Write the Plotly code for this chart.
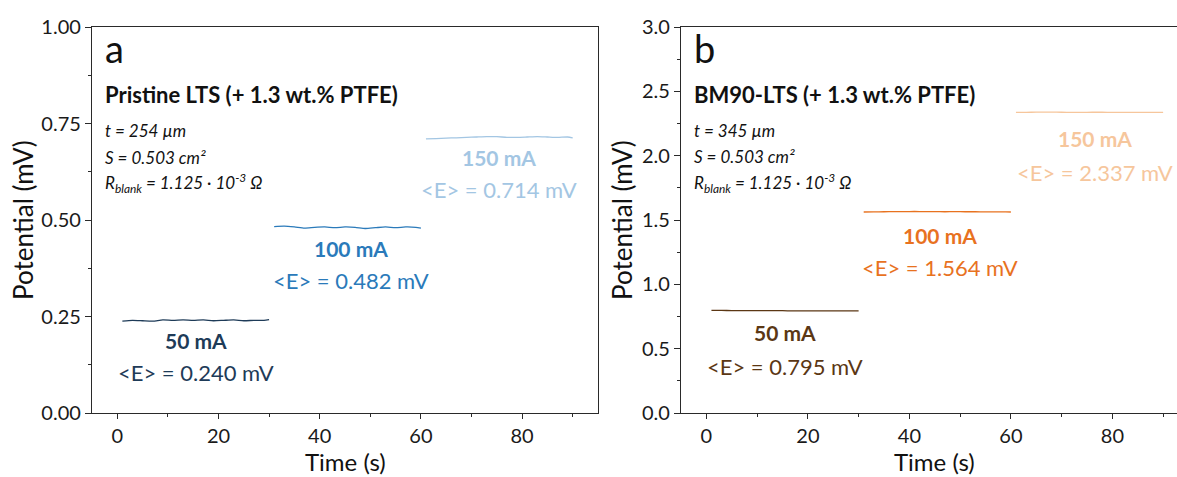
import plotly.graph_objects as go

# ---------------- data ----------------
t50 = [1, 3, 5, 7, 9, 11, 13, 15, 17, 19, 21, 23, 25, 27, 29, 30]
t100 = [31, 33, 35, 37, 39, 41, 43, 45, 47, 49, 51, 53, 55, 57, 59, 60]
t150 = [61, 63, 65, 67, 69, 71, 73, 75, 77, 79, 81, 83, 85, 87, 89, 90]

a50 = [0.238, 0.240, 0.239, 0.238, 0.241, 0.240, 0.241, 0.240, 0.241, 0.239, 0.240, 0.241, 0.239, 0.240, 0.240, 0.242]
a100 = [0.483, 0.484, 0.482, 0.479, 0.481, 0.482, 0.480, 0.482, 0.481, 0.478, 0.480, 0.482, 0.480, 0.482, 0.481, 0.479]
a150 = [0.710, 0.711, 0.712, 0.713, 0.714, 0.715, 0.716, 0.716, 0.714, 0.714, 0.715, 0.716, 0.715, 0.714, 0.715, 0.713]

b50 = [0.797, 0.797, 0.796, 0.796, 0.796, 0.795, 0.795, 0.795, 0.794, 0.794, 0.793, 0.794, 0.793, 0.793, 0.793, 0.793]
b100 = [1.562, 1.563, 1.564, 1.565, 1.565, 1.566, 1.565, 1.565, 1.564, 1.565, 1.564, 1.564, 1.563, 1.563, 1.563, 1.562]
b150 = [2.336, 2.337, 2.338, 2.338, 2.338, 2.337, 2.337, 2.337, 2.338, 2.337, 2.337, 2.336, 2.336, 2.336, 2.337, 2.337]

currents = ["50 mA", "100 mA", "150 mA"]
mean_a = ["<E> = 0.240 mV", "<E> = 0.482 mV", "<E> = 0.714 mV"]
mean_b = ["<E> = 0.795 mV", "<E> = 1.564 mV", "<E> = 2.337 mV"]

title_a = "Pristine LTS (+ 1.3 wt.% PTFE)"
title_b = "BM90-LTS (+ 1.3 wt.% PTFE)"
info_a = ["t = 254 µm", "S = 0.503 cm²", "R<sub>blank</sub> = 1.125 · 10<sup>-3</sup> Ω"]
info_b = ["t = 345 µm", "S = 0.503 cm²", "R<sub>blank</sub> = 1.125 · 10<sup>-3</sup> Ω"]

x_ticks = [0, 20, 40, 60, 80]
ya_ticks = [0.0, 0.25, 0.5, 0.75, 1.0]
yb_ticks = [0.0, 0.5, 1.0, 1.5, 2.0, 2.5, 3.0]

cols_a = ["#1e3b58", "#2a7aba", "#a3c6e3"]
cols_b = ["#5b3714", "#e8721f", "#f6c69c"]

FONT = "Lato"
W, H = 1177, 477

fig = go.Figure()
for t, y, c in zip([t50, t100, t150], [a50, a100, a150], cols_a):
    fig.add_trace(go.Scatter(x=t, y=y, mode="lines", line=dict(color=c, width=1.3, shape="spline", smoothing=0.6),
                             xaxis="x", yaxis="y", showlegend=False))
for t, y, c in zip([t50, t100, t150], [b50, b100, b150], cols_b):
    fig.add_trace(go.Scatter(x=t, y=y, mode="lines", line=dict(color=c, width=1.3, shape="spline", smoothing=0.6),
                             xaxis="x2", yaxis="y2", showlegend=False))

axcommon = dict(showline=True, linecolor="#2a2a2a", linewidth=1.3, ticks="outside",
                tickwidth=1.2, tickcolor="#2a2a2a", showgrid=False, zeroline=False, automargin=False,
                tickfont=dict(family=FONT, size=20, color="#1a1a1a"))

ydom = [64 / H, 450 / H]
fig.update_layout(
    template="none",
    width=W, height=H,
    margin=dict(l=0, r=0, t=0, b=0, pad=0),
    paper_bgcolor="white", plot_bgcolor="white",
    xaxis=dict(domain=[92 / W, 598 / W], range=[-5, 95], tickvals=x_ticks, mirror=True, ticklen=5,
               minor=dict(ticks="outside", ticklen=3, dtick=10, tick0=0, tickcolor="#2a2a2a"),
               anchor="y", **axcommon),
    yaxis=dict(domain=ydom, range=[0, 1], tickvals=ya_ticks, tickformat=".2f", mirror=True, ticklen=6,
               minor=dict(ticks="outside", ticklen=3, dtick=0.125, tick0=0, tickcolor="#2a2a2a"),
               anchor="x", **axcommon),
    xaxis2=dict(domain=[681 / W, 1.0], range=[-5, -5 + (W - 681) / 5.075], tickvals=x_ticks, mirror=True,
                ticklen=5,
                minor=dict(ticks="outside", ticklen=3, dtick=10, tick0=0, tickcolor="#2a2a2a"),
                anchor="y2", **axcommon),
    yaxis2=dict(domain=ydom, range=[0, 3], tickvals=yb_ticks, tickformat=".1f", mirror=False, ticklen=6,
                minor=dict(ticks="outside", ticklen=3, dtick=0.25, tick0=0, tickcolor="#2a2a2a"),
                anchor="x2", **axcommon),
)

ann = []


def add(text, x, y, xref, yref, size, color="#111111", xanchor="center", yanchor="middle", textangle=0,
        yshift=0):
    ann.append(dict(text=text, x=x, y=y, xref=xref, yref=yref, showarrow=False, xanchor=xanchor,
                    yanchor=yanchor, textangle=textangle, yshift=yshift, borderpad=0,
                    font=dict(family=FONT, size=size, color=color)))


# panel a
add("a", -2.6, 0.945, "x", "y", 38, xanchor="left")
add("<b>" + title_a + "</b>", -2.6, 0.826, "x", "y", 22, xanchor="left")
for txt, yy in zip(info_a, [0.733, 0.663, 0.596]):
    add("<i>" + txt + "</i>", -2.6, yy, "x", "y", 17, xanchor="left")
for lab, mtxt, xx, y1, y2, c in zip(currents, mean_a, [15.6, 46.2, 75.4], [0.189, 0.427, 0.661],
                                     [0.104, 0.342, 0.578], cols_a):
    add("<b>" + lab + "</b>", xx, y1, "x", "y", 21, color=c)
    add(mtxt, xx, y2, "x", "y", 22, color=c)

# panel b
add("b", -2.7, 2.835, "x2", "y2", 38, xanchor="left")
add("<b>" + title_b + "</b>", -2.7, 2.479, "x2", "y2", 22, xanchor="left")
for txt, yy in zip(info_b, [2.199, 1.990, 1.788]):
    add("<i>" + txt + "</i>", -2.7, yy, "x2", "y2", 17, xanchor="left")
for lab, mtxt, xx, y1, y2, c in zip(currents, mean_b, [15.4, 46.0, 76.5], [0.622, 1.376, 2.137],
                                     [0.365, 1.127, 1.873], cols_b):
    add("<b>" + lab + "</b>", xx, y1, "x2", "y2", 21, color=c)
    add(mtxt, xx, y2, "x2", "y2", 22, color=c)

# axis titles
add("Potential (mV)", 23 / W, (H - 220) / H, "paper", "paper", 26, textangle=-90)
add("Potential (mV)", 622 / W, (H - 220) / H, "paper", "paper", 26, textangle=-90)
add("Time (s)", 345 / W, 0, "paper", "paper", 24, yanchor="bottom")
add("Time (s)", 45, 0, "x2", "paper", 24, yanchor="bottom")

fig.update_layout(annotations=ann)
fig.write_html("out.html", config={"displayModeBar": False},
               post_script="document.body.style.margin='0';document.body.style.overflow='hidden';")
